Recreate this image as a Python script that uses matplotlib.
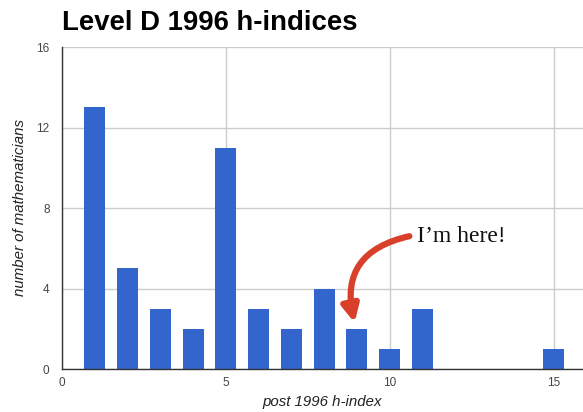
import matplotlib
matplotlib.use("Agg")
import matplotlib.pyplot as plt

plt.rcParams["font.family"] = ["Liberation Sans", "DejaVu Sans"]

h_index = [1, 2, 3, 4, 5, 6, 7, 8, 9, 10, 11, 15]
counts = [13, 5, 3, 2, 11, 3, 2, 4, 2, 1, 3, 1]
x_ticks = [0, 5, 10, 15]
y_ticks = [0, 4, 8, 12, 16]
title = "Level D 1996 h-indices"
xlabel = "post 1996 h-index"
ylabel = "number of mathematicians"
note = "I\u2019m here!"

fig = plt.figure(figsize=(5.83, 4.12), dpi=100)
ax = fig.add_axes([62/583, 1-369/412, (583-62)/583, (369-47)/412])

ax.bar(h_index, counts, width=0.64, color="#3366cc", zorder=3)
ax.set_xlim(0, 15.9)
ax.set_ylim(0, 16)
ax.set_xticks(x_ticks)
ax.set_yticks(y_ticks)
ax.grid(True, color="#cccccc", linewidth=1, zorder=0)
ax.tick_params(axis="x", length=0, labelsize=8.5, labelcolor="#444444", pad=6)
ax.tick_params(axis="y", length=0, labelsize=8.5, labelcolor="#444444", pad=9)
for s in ["top", "right"]:
    ax.spines[s].set_visible(False)
for s in ["left", "bottom"]:
    ax.spines[s].set_color("#333333")
    ax.spines[s].set_linewidth(1)
    ax.spines[s].set_zorder(4)

ax.set_xlabel(xlabel, fontsize=10.8, style="italic", color="#222222", labelpad=4)
ax.set_ylabel(ylabel, fontsize=10.8, style="italic", color="#222222", labelpad=7)

fig.text(62/583, 1-10/412, title, fontsize=19.8, fontweight="bold",
         va="top", ha="left")

ax.annotate("", xy=(8.93, 2.3), xytext=(10.6, 6.6),
            arrowprops=dict(arrowstyle="-|>,head_length=1.0,head_width=0.5",
                            color="#d9402b", lw=4.5,
                            connectionstyle="arc3,rad=0.5",
                            shrinkA=0, shrinkB=0), zorder=5)
ax.text(10.82, 6.6, note, fontsize=17, family="Liberation Serif",
        va="center", ha="left", color="#111111", zorder=5)

fig.savefig("out.png", dpi=100)
